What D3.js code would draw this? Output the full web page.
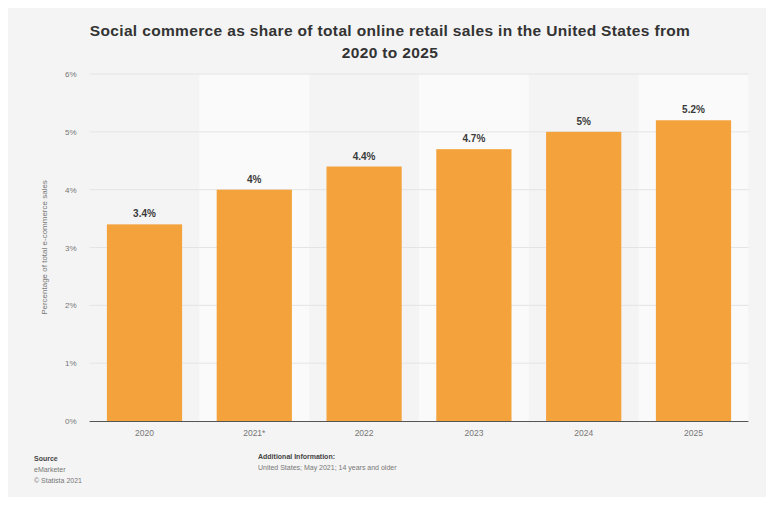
<!DOCTYPE html>
<html>
<head>
<meta charset="utf-8">
<script src="https://cdn.jsdelivr.net/npm/d3@7"></script>
<style>
  html, body { margin: 0; padding: 0; background: #ffffff; }
  svg { display: block; }
</style>
</head>
<body>
<svg id="chart" width="766" height="506"></svg>
<script>
// Social commerce share of US online retail sales
const years = ["2020", "2021*", "2022", "2023", "2024", "2025"];
const shares = [3.4, 4.0, 4.4, 4.7, 5.0, 5.2];
const shareLabels = ["3.4%", "4%", "4.4%", "4.7%", "5%", "5.2%"];
const yTicks = [0, 1, 2, 3, 4, 5, 6];

(function () {
  const svg = d3.select("#chart");
  const W = 766;
  const font = "'Liberation Sans', Arial, sans-serif";

  // panel background
  svg.append("rect").attr("x", 8).attr("y", 8).attr("width", W - 8).attr("height", 489)
    .attr("fill", "#f4f4f4");

  const plotL = 89.6, plotR = 748.4, plotT = 74, plotB = 421;

  const x = d3.scaleBand().domain(years).range([plotL, plotR]).paddingInner(0.315).paddingOuter(0.1575);
  const bands = d3.scaleBand().domain(years).range([plotL, plotR]);
  const y = d3.scaleLinear().domain([0, 6]).range([plotB, plotT]);

  // alternating column shading
  svg.append("g").selectAll("rect")
    .data(years.filter((d, i) => i % 2 === 1))
    .join("rect")
    .attr("x", d => bands(d))
    .attr("y", plotT)
    .attr("width", bands.bandwidth())
    .attr("height", plotB - plotT)
    .attr("fill", "#fafafa");

  // horizontal grid
  svg.append("g").selectAll("line")
    .data(yTicks.filter(t => t > 0))
    .join("line")
    .attr("x1", plotL).attr("x2", plotR)
    .attr("y1", d => y(d)).attr("y2", d => y(d))
    .attr("stroke", "#e4e4e4").attr("stroke-width", 1);

  // y axis labels
  const yAxis = d3.axisLeft(y).tickValues(yTicks).tickFormat(d => d + "%").tickSize(0).tickPadding(0);
  const gy = svg.append("g").attr("transform", `translate(${plotL - 13},0)`).call(yAxis);
  gy.select(".domain").remove();
  gy.selectAll("text").attr("fill", "#777").attr("font-size", "8px").attr("font-family", font);

  // y axis title
  svg.append("text")
    .attr("transform", `translate(47,${(plotT + plotB) / 2}) rotate(-90)`)
    .attr("text-anchor", "middle")
    .attr("font-family", font).attr("font-size", "8px").attr("fill", "#777")
    .text("Percentage of total e-commerce sales");

  // bars
  svg.append("g").selectAll("rect")
    .data(years)
    .join("rect")
    .attr("x", d => x(d))
    .attr("y", (d, i) => y(shares[i]))
    .attr("width", x.bandwidth())
    .attr("height", (d, i) => plotB - y(shares[i]))
    .attr("fill", "#f4a23c");

  // value labels
  svg.append("g").selectAll("text")
    .data(years)
    .join("text")
    .attr("x", d => x(d) + x.bandwidth() / 2)
    .attr("y", (d, i) => y(shares[i]) - 7)
    .attr("text-anchor", "middle")
    .attr("font-family", font).attr("font-size", "10px").attr("font-weight", "bold")
    .attr("fill", "#3a3a3a")
    .text((d, i) => shareLabels[i]);

  // x axis
  const xAxis = d3.axisBottom(x).tickSize(0).tickPadding(9);
  const gx = svg.append("g").attr("transform", `translate(0,${plotB})`).call(xAxis);
  gx.select(".domain").attr("stroke", "#555").attr("stroke-width", 1.2)
    .attr("d", `M${plotL},0.5H${plotR}`);
  gx.selectAll("text").attr("fill", "#777").attr("font-size", "8.5px").attr("font-family", font);

  // title
  const title = svg.append("text")
    .attr("text-anchor", "middle")
    .attr("font-family", font).attr("font-size", "15.5px").attr("font-weight", "bold")
    .attr("letter-spacing", "0.35px")
    .attr("fill", "#333");
  title.append("tspan").attr("x", 390).attr("y", 36)
    .text("Social commerce as share of total online retail sales in the United States from");
  title.append("tspan").attr("x", 390).attr("y", 58).text("2020 to 2025");

  // footer: source
  const src = svg.append("g").attr("font-family", font).attr("font-size", "7px").attr("fill", "#777");
  src.append("text").attr("x", 34).attr("y", 461).attr("font-weight", "bold").attr("fill", "#444").text("Source");
  src.append("text").attr("x", 34).attr("y", 472).text("eMarketer");
  src.append("text").attr("x", 34).attr("y", 483).text("© Statista 2021");

  // footer: additional information
  const info = svg.append("g").attr("font-family", font).attr("font-size", "7px").attr("fill", "#777");
  info.append("text").attr("x", 258).attr("y", 459).attr("font-weight", "bold").attr("fill", "#444")
    .text("Additional Information:");
  info.append("text").attr("x", 258).attr("y", 470)
    .text("United States; May 2021; 14 years and older");
})();
</script>
</body>
</html>
